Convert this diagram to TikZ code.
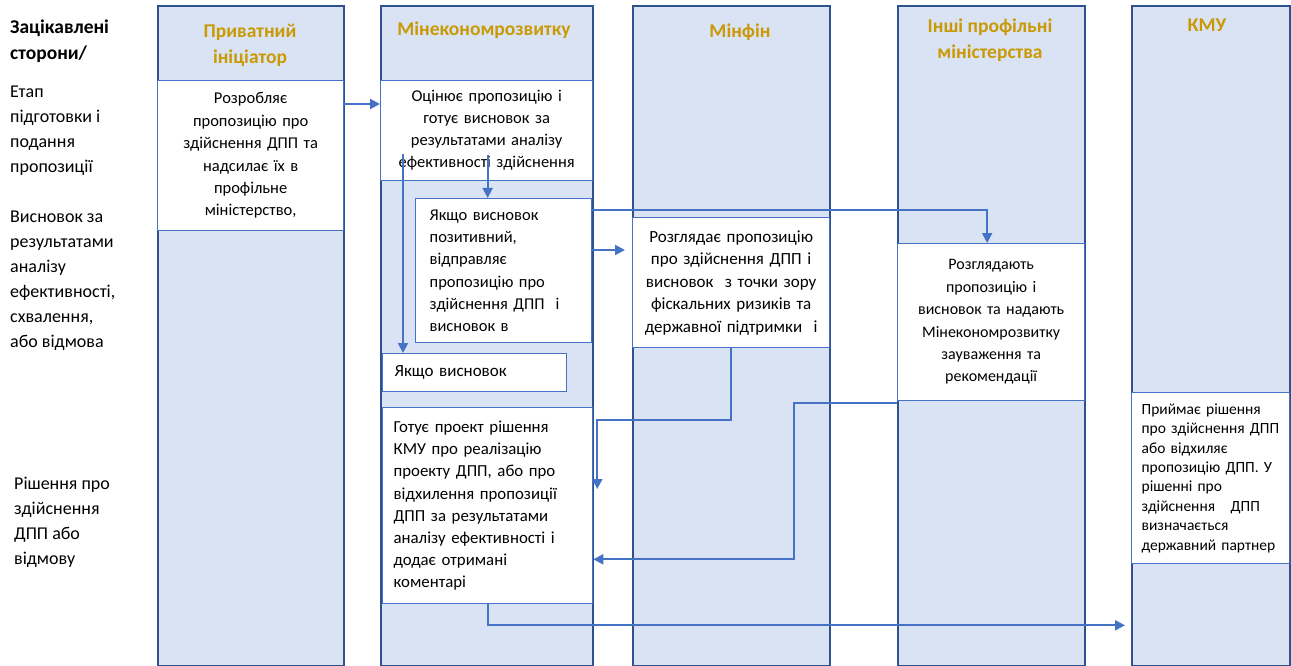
\documentclass[tikz,border=0pt]{standalone}
\usepackage{fontspec}
\setmainfont{Carlito}
\usetikzlibrary{positioning}
\usetikzlibrary{arrows.meta}
\usetikzlibrary{calc}
\definecolor{pLane}{HTML}{DAE3F3}
\definecolor{pEdge}{HTML}{2F528F}
\definecolor{pArrow}{HTML}{4472C4}
\definecolor{pGold}{HTML}{C99A06}

\begin{document}
\begin{tikzpicture}[x=1pt, y=-1pt,
    lane/.style={draw=pEdge, line width=1.8pt, fill=pLane, anchor=north west, minimum height=660pt, inner sep=0pt},
    head/.style={text=pGold, font=\fontsize{19.5}{26}\selectfont\bfseries, align=center},
    box/.style={draw=pArrow, line width=1.3pt, fill=white, anchor=north west, inner ysep=0pt},
    side/.style={anchor=west, align=left, inner sep=0pt, font=\fontsize{18}{25}\selectfont},
    flow/.style={draw=pArrow, line width=2pt, -{Triangle[length=10pt, width=10pt]}}]
  \useasboundingbox (0,0) rectangle (1291,666);

  % swim lanes
  \node[lane, minimum width=186pt] (laneA) at (157,5) {};
  \node[lane, minimum width=212pt] (laneB) at (380,5) {};
  \node[lane, minimum width=197pt] (laneC) at (632,5) {};
  \node[lane, minimum width=187pt] (laneD) at (897,5) {};
  \node[lane, minimum width=158pt] (laneE) at (1131,5) {};

  \node[head] (headA) at (250,45) {Приватний\\ініціатор};
  \node[head] (headB) at (484,30) {Мінекономрозвитку};
  \node[head] (headC) at (740,32) {Мінфін};
  \node[head] (headD) at (990,40) {Інші профільні\\міністерства};
  \node[head] (headE) at (1207,25) {КМУ};

  % stages on the left
  \node[side, font=\fontsize{19.5}{26}\selectfont\bfseries] (parties) at (10,41) {Зацікавлені\\сторони/};
  \node[side] (stage1) at (10,131) {Етап\\підготовки і\\подання\\пропозиції};
  \node[side] (stage2) at (10,281) {Висновок за\\результатами\\аналізу\\ефективності,\\схвалення,\\або відмова};
  \node[side] (stage3) at (14,522) {Рішення про\\здійснення\\ДПП або\\відмову};

  % steps
  \node[box, align=center, inner xsep=5pt, text width=176pt, minimum height=150pt, font=\fontsize{16.5}{22.4}\selectfont] (propose) at (157,80)
    {Розробляє\\пропозицію про\\здійснення ДПП та\\надсилає їх в\\профільне\\міністерство,};
  \node[box, align=center, inner xsep=2pt, text width=208pt, minimum height=100pt, font=\fontsize{16.5}{22}\selectfont] (assess) at (380,80)
    {Оцінює пропозицію і\\готує висновок за\\результатами аналізу\\ефективності здійснення};
  \node[box, align=left, inner xsep=14pt, text width=148pt, minimum height=144pt, font=\fontsize{16.5}{22.3}\selectfont] (ifyes) at (415,198)
    {Якщо висновок\\позитивний,\\відправляє\\пропозицію про\\здійснення ДПП~~і\\висновок в};
  \node[box, align=left, inner xsep=12pt, text width=160pt, minimum height=38pt, font=\fontsize{17}{22}\selectfont] (ifno) at (382,353)
    {Якщо висновок};
  \node[box, align=left, inner xsep=11pt, text width=188pt, minimum height=196pt, font=\fontsize{16.8}{22.1}\selectfont] (prep) at (382,407)
    {Готує проект рішення\\КМУ про реалізацію\\проекту ДПП, або про\\відхилення пропозиції\\ДПП за результатами\\аналізу ефективності і\\додає отримані\\коментарі};
  \node[box, align=center, inner xsep=4pt, text width=189pt, minimum height=130pt, font=\fontsize{17}{22.5}\selectfont] (minfin) at (632,217)
    {Розглядає пропозицію\\про здійснення ДПП і\\висновок~~з точки зору\\фіскальних ризиків та\\державної підтримки~~і};
  \node[box, align=center, inner xsep=4pt, text width=179pt, minimum height=157pt, font=\fontsize{16}{22.4}\selectfont] (others) at (897,243)
    {Розглядають\\пропозицію і\\висновок та надають\\Мінекономрозвитку\\зауваження та\\рекомендації};
  \node[box, align=left, inner xsep=10pt, text width=138pt, minimum height=171pt, font=\fontsize{15.5}{19.4}\selectfont] (kmu) at (1131,392)
    {Приймає рішення\\про здійснення ДПП\\або відхиляє\\пропозицію ДПП. У\\рішенні про\\здійснення~~~ДПП\\визначається\\державний партнер};

  % arrows
  \draw[flow] ([yshift=-24pt]propose.north east) -- ([yshift=-24pt]assess.north west);
  \draw[flow] ($(ifyes.north)+(-16,-43)$) -- ($(ifyes.north)+(-16,0)$);
  \draw[flow] ($(assess.south west)+(23,-27)$) -- ($(ifno.north west)+(21,0)$);
  \draw[flow] ($(ifyes.north east)+(0,12)$) -| ($(others.north)+(-4,0)$);
  \draw[flow] ($(ifyes.north east)+(0,52)$) -- ($(minfin.north west)+(-7,33)$);
  \draw[flow] (minfin.south) -- ++(0,72) -| ($(prep.north east)+(4,82)$);
  \draw[flow] ($(others.south west)+(0,2)$) -- ++(-103,0) |- ($(prep.south east)+(0,-45)$);
  \draw[flow] (prep.south) |- ($(kmu.south west)+(-6,61)$);
\end{tikzpicture}
\end{document}
